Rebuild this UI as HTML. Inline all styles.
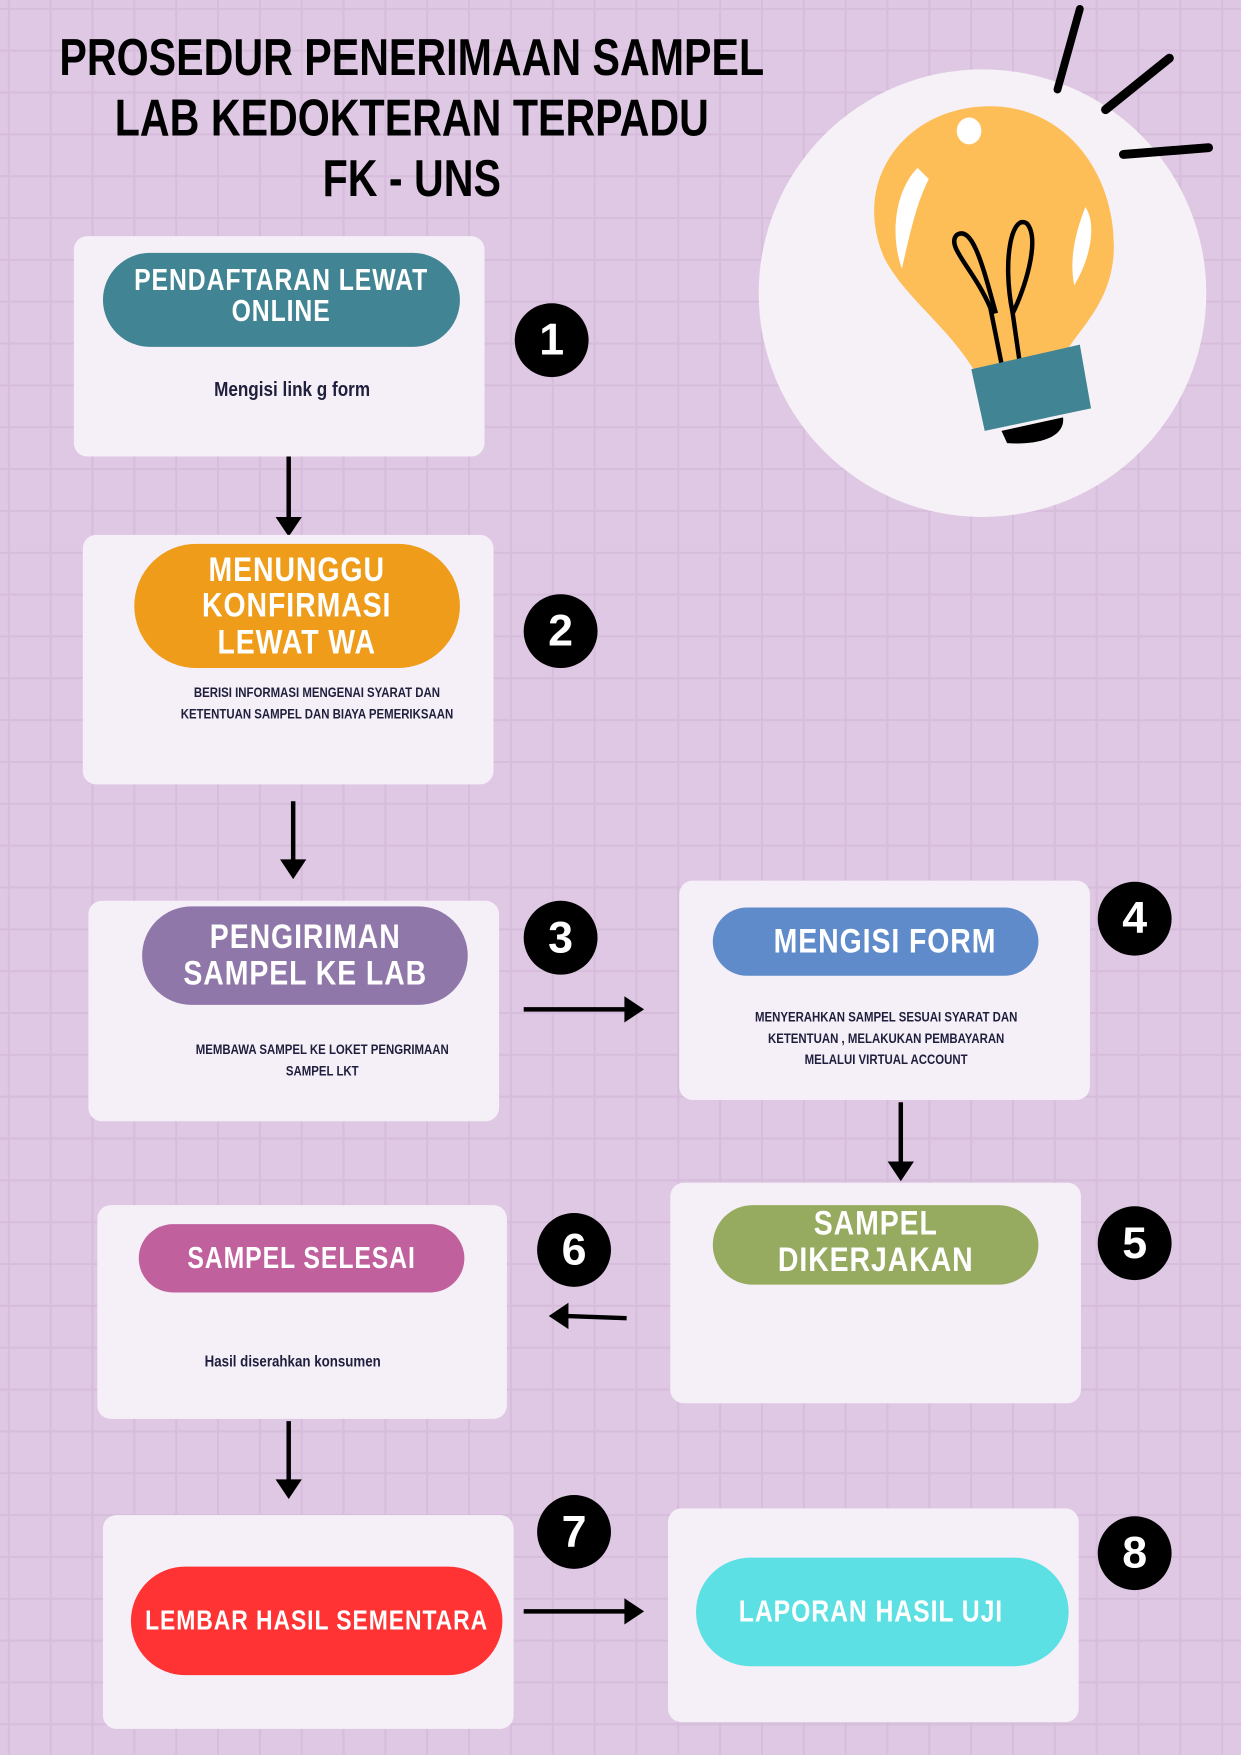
<!DOCTYPE html>
<html><head><meta charset="utf-8"><style>
body{margin:0;width:1241px;height:1755px;overflow:hidden;background:#dfc8e3;}
#s{position:absolute;left:0;top:0;width:1109px;height:1568px;transform:scale(1.1190);transform-origin:0 0;
background-color:#dfc8e3;
background-image:linear-gradient(to right,#d6bddb 2px,transparent 2px),linear-gradient(to bottom,#d6bddb 2px,transparent 2px);
background-size:37.4px 37.4px;background-position:7px 7px;font-family:"Liberation Sans",sans-serif;}
.t{position:absolute;left:-200px;width:1136px;text-align:center;font-weight:bold;font-size:46px;color:#000;transform:scaleX(0.8);transform-origin:568px 0;white-space:nowrap;}
.box{position:absolute;background:#f5f0f7;border-radius:12px;}
.pill{position:absolute;border-radius:60px;color:#fff;font-weight:bold;display:flex;align-items:center;justify-content:center;text-align:center;line-height:1.05;white-space:nowrap;}
.pill span{display:inline-block;transform:scaleX(0.82);letter-spacing:1px;}
.body{position:absolute;text-align:center;color:#1f1f3d;font-weight:bold;font-size:12px;line-height:19px;white-space:nowrap;}
.body span{display:inline-block;transform:scaleX(0.85);}
.num{position:absolute;width:66px;height:66px;border-radius:50%;background:#000;color:#fff;font-weight:bold;font-size:40px;display:flex;align-items:center;justify-content:center;}
svg{position:absolute;left:0;top:0;}
</style></head><body><div id="s">
<div class="t" style="top:24px">PROSEDUR PENERIMAAN SAMPEL</div>
<div class="t" style="top:78px">LAB KEDOKTERAN TERPADU</div>
<div class="t" style="top:132px">FK - UNS</div>

<svg width="1109" height="1568">
<ellipse cx="878" cy="262" rx="200" ry="200" fill="#f6f1f7"/>
<path d="M965 8 L945 80" stroke="#000" stroke-width="7" stroke-linecap="round"/>
<path d="M1045 52 L988 98" stroke="#000" stroke-width="8" stroke-linecap="round"/>
<path d="M1004 138 L1080 132" stroke="#000" stroke-width="8" stroke-linecap="round"/>
<path d="M885 95 C955 95 1000 160 995 230 C990 280 955 300 945 330 L880 350 C860 300 810 270 790 230 C760 160 810 95 885 95 Z" fill="#fdbd57"/>
<ellipse cx="866" cy="117" rx="11" ry="12" fill="#fff"/>
<path d="M820 150 C800 170 795 210 806 240 C815 200 820 180 830 160 Z" fill="#fff"/>
<path d="M970 185 C980 200 975 230 960 255 C955 230 962 205 970 185Z" fill="#fff"/>
<path d="M900 350 L885 275 C870 240 845 220 855 210 C870 200 880 245 890 280 M915 350 L905 280 C895 230 905 190 918 200 C930 215 915 260 905 280" stroke="#000" stroke-width="4" fill="none"/>
<path d="M868 330 L965 308 L975 365 L880 385 Z" fill="#418494"/>
<path d="M895 385 L950 373 C952 390 930 398 900 396 Z" fill="#000"/>
<g stroke="#000" stroke-width="4" fill="#000">
<line x1="258" y1="408" x2="258" y2="466"/><path d="M250 464 L266 464 L258 476Z"/>
<line x1="262" y1="716" x2="262" y2="772"/><path d="M254 770 L270 770 L262 782Z"/>
<line x1="468" y1="902" x2="562" y2="902"/><path d="M560 894 L560 910 L572 902Z"/>
<line x1="805" y1="985" x2="805" y2="1042"/><path d="M797 1040 L813 1040 L805 1052Z"/>
<line x1="560" y1="1178" x2="504" y2="1176"/><path d="M506 1168 L506 1184 L494 1176Z"/>
<line x1="258" y1="1270" x2="258" y2="1326"/><path d="M250 1324 L266 1324 L258 1336Z"/>
<line x1="468" y1="1440" x2="562" y2="1440"/><path d="M560 1432 L560 1448 L572 1440Z"/>
</g>
</svg>

<div class="box" style="left:66px;top:211px;width:367px;height:197px"></div>
<div class="pill" style="left:92px;top:226px;width:319px;height:84px;background:#418494;font-size:27px;align-items:flex-start"><span style="margin-top:10px">PENDAFTARAN LEWAT<br>ONLINE</span></div>
<div class="body" style="left:66px;top:339px;width:390px;font-size:18px"><span>Mengisi link g form</span></div>
<div class="num" style="left:460px;top:271px">1</div>

<div class="box" style="left:74px;top:478px;width:367px;height:223px"></div>
<div class="pill" style="left:120px;top:486px;width:291px;height:111px;background:#ee9c1a;font-size:31px"><span>MENUNGGU<br>KONFIRMASI<br>LEWAT WA</span></div>
<div class="body" style="left:120px;top:610px;width:326px"><span>BERISI INFORMASI MENGENAI SYARAT DAN<br>KETENTUAN SAMPEL DAN BIAYA PEMERIKSAAN</span></div>
<div class="num" style="left:468px;top:531px">2</div>

<div class="box" style="left:79px;top:805px;width:367px;height:197px"></div>
<div class="pill" style="left:127px;top:810px;width:291px;height:88px;background:#8f78a9;font-size:31px"><span>PENGIRIMAN<br>SAMPEL KE LAB</span></div>
<div class="body" style="left:120px;top:929px;width:336px"><span>MEMBAWA SAMPEL KE LOKET PENGRIMAAN<br>SAMPEL LKT</span></div>
<div class="num" style="left:468px;top:805px">3</div>

<div class="box" style="left:607px;top:787px;width:367px;height:196px"></div>
<div class="pill" style="left:637px;top:811px;width:291px;height:61px;background:#5f8bcb;font-size:31px"><span>&nbsp;&nbsp;MENGISI FORM</span></div>
<div class="body" style="left:607px;top:900px;width:370px"><span>MENYERAHKAN SAMPEL SESUAI SYARAT DAN<br>KETENTUAN , MELAKUKAN PEMBAYARAN<br>MELALUI VIRTUAL ACCOUNT</span></div>
<div class="num" style="left:981px;top:788px">4</div>

<div class="box" style="left:599px;top:1057px;width:367px;height:197px"></div>
<div class="pill" style="left:637px;top:1077px;width:291px;height:71px;background:#96ab60;font-size:31px;align-items:flex-start"><span>SAMPEL<br>DIKERJAKAN</span></div>
<div class="num" style="left:981px;top:1078px">5</div>

<div class="box" style="left:87px;top:1077px;width:366px;height:191px"></div>
<div class="pill" style="left:124px;top:1094px;width:291px;height:61px;background:#c0619e;font-size:27px"><span>SAMPEL SELESAI</span></div>
<div class="body" style="left:87px;top:1207px;width:350px;font-size:14px"><span>Hasil diserahkan konsumen</span></div>
<div class="num" style="left:480px;top:1084px">6</div>

<div class="box" style="left:92px;top:1354px;width:367px;height:191px"></div>
<div class="pill" style="left:117px;top:1400px;width:332px;height:97px;background:#ff3333;font-size:25px"><span>LEMBAR HASIL SEMENTARA</span></div>
<div class="num" style="left:480px;top:1336px">7</div>

<div class="box" style="left:597px;top:1348px;width:367px;height:191px"></div>
<div class="pill" style="left:622px;top:1392px;width:333px;height:97px;background:#5ce0e4;font-size:27px"><span>LAPORAN HASIL UJI&nbsp;&nbsp;&nbsp;</span></div>
<div class="num" style="left:981px;top:1355px">8</div>
</div></body></html>
